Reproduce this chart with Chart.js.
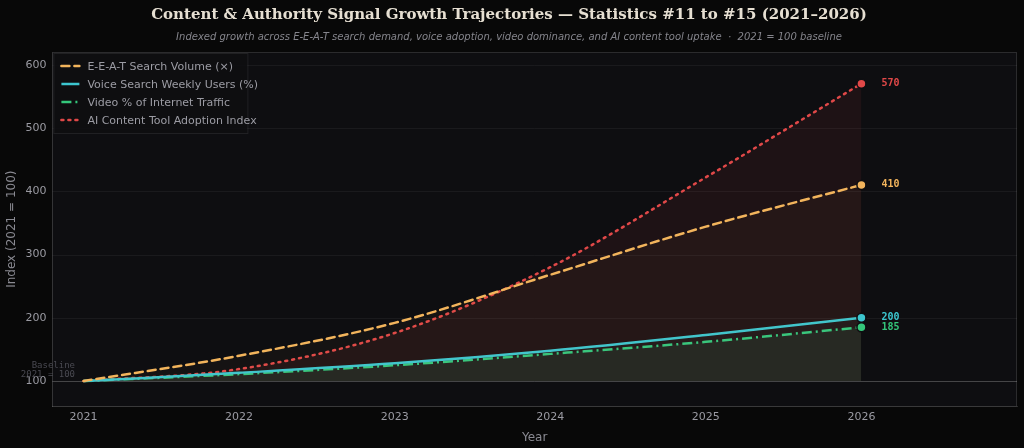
<!DOCTYPE html>
<html>
<head>
<meta charset="utf-8">
<script src="https://cdn.jsdelivr.net/npm/chart.js@4.4.1/dist/chart.umd.min.js"></script>
<style>
  html, body { margin: 0; padding: 0; background: #080808; }
  #wrap { width: 1024px; height: 448px; position: relative; }
</style>
</head>
<body>
<div id="wrap"><canvas id="chart"></canvas></div>
<script>
// ─── Data ────────────────────────────────────────────────────────────────────
const YEARS       = [2021, 2022, 2023, 2024, 2025, 2026];
const EEAT_VOLUME = [100, 140, 192, 268, 344, 410];
const VOICE_USERS = [100, 113, 128, 148, 173, 200];
const VIDEO_SHARE = [100, 111, 125, 143, 162, 185];
const AI_ADOPTION = [100, 119, 176, 280, 422, 570];
const Y_TICKS     = [100, 200, 300, 400, 500, 600];

const SERIES = [
  { label: "E-E-A-T Search Volume (×)",     data: EEAT_VOLUME, color: "#f2b45c", dash: [8, 5],        fill: "rgba(242,180,92,0.03)" },
  { label: "Voice Search Weekly Users (%)", data: VOICE_USERS, color: "#3cc6cf", dash: [],            fill: "rgba(60,198,207,0.03)" },
  { label: "Video % of Internet Traffic",   data: VIDEO_SHARE, color: "#34c77b", dash: [10, 4, 2, 4], fill: "rgba(52,199,123,0.08)" },
  { label: "AI Content Tool Adoption Index", data: AI_ADOPTION, color: "#e04848", dash: [2, 5],        fill: "rgba(224,72,72,0.08)" },
];

const MONO = "'DejaVu Sans Mono', monospace";
const SANS = "'DejaVu Sans', sans-serif";

// ─── Extras: background, baseline, end labels, legend ────────────────────────
const extras = {
  id: "extras",
  beforeDatasetsDraw(chart) {
    const { ctx, chartArea: a, scales: { y } } = chart;
    ctx.save();
    ctx.fillStyle = "#0e0e11";
    ctx.fillRect(a.left, a.top, a.right - a.left, a.bottom - a.top);
    // horizontal grid
    ctx.strokeStyle = "rgba(255,255,255,0.05)";
    ctx.lineWidth = 1;
    Y_TICKS.forEach(v => {
      const py = Math.round(y.getPixelForValue(v)) + 0.5;
      ctx.beginPath(); ctx.moveTo(a.left, py); ctx.lineTo(a.right, py); ctx.stroke();
    });
    // baseline
    const by = Math.round(y.getPixelForValue(100)) + 0.5;
    ctx.strokeStyle = "rgba(200,200,200,0.25)";
    ctx.beginPath(); ctx.moveTo(a.left, by); ctx.lineTo(a.right, by); ctx.stroke();
    // frame
    ctx.strokeStyle = "rgba(255,255,255,0.12)";
    ctx.strokeRect(Math.round(a.left) + 0.5, Math.round(a.top) + 0.5,
                   Math.round(a.right - a.left) - 1, Math.round(a.bottom - a.top));
    ctx.restore();
  },
  afterDatasetsDraw(chart) {
    const { ctx, chartArea: a, scales: { x, y } } = chart;
    ctx.save();
    // baseline note
    ctx.font = "9px " + MONO;
    ctx.fillStyle = "#4a4a52";
    ctx.textAlign = "right";
    ctx.textBaseline = "middle";
    ctx.fillText("Baseline", 75, 366);
    ctx.fillText("2021 = 100", 75, 375);

    // end markers + labels
    const lastX = x.getPixelForValue(YEARS[YEARS.length - 1]);
    SERIES.forEach(s => {
      const v = s.data[s.data.length - 1];
      const py = y.getPixelForValue(v);
      ctx.beginPath();
      ctx.arc(lastX, py, 4.5, 0, Math.PI * 2);
      ctx.fillStyle = s.color;
      ctx.fill();
      ctx.lineWidth = 1.5;
      ctx.strokeStyle = "#0e0e11";
      ctx.stroke();
      ctx.font = "bold 10px " + MONO;
      ctx.textAlign = "left";
      ctx.fillStyle = s.color;
      ctx.fillText(String(v), lastX + 20, py);
    });

    // legend
    const lx = a.left + 1, ly = a.top + 1;
    ctx.fillStyle = "rgba(14,14,17,0.85)";
    ctx.fillRect(lx, ly, 194, 80);
    ctx.strokeStyle = "rgba(255,255,255,0.08)";
    ctx.lineWidth = 1;
    ctx.strokeRect(lx + 0.5, ly + 0.5, 194, 80);
    ctx.font = "11px " + SANS;
    ctx.textAlign = "left";
    SERIES.forEach((s, i) => {
      const iy = ly + 13 + i * 18;
      ctx.beginPath();
      ctx.setLineDash(s.dash);
      ctx.lineCap = s.dash.length === 2 ? "round" : "butt";
      ctx.strokeStyle = s.color;
      ctx.lineWidth = 2.5;
      ctx.moveTo(lx + 8, iy); ctx.lineTo(lx + 26, iy);
      ctx.stroke();
      ctx.setLineDash([]);
      ctx.fillStyle = "#9c9ca4";
      ctx.fillText(s.label, lx + 34, iy + 1);
    });
    ctx.restore();
  }
};

// ─── Chart ───────────────────────────────────────────────────────────────────
new Chart(document.getElementById("chart"), {
  type: "line",
  data: {
    datasets: SERIES.map(s => ({
      label: s.label,
      data: YEARS.map((yr, i) => ({ x: yr, y: s.data[i] })),
      borderColor: s.color,
      backgroundColor: s.fill,
      borderWidth: 2.5,
      borderDash: s.dash,
      borderCapStyle: s.dash.length === 2 ? "round" : "butt",
      pointRadius: 0,
      cubicInterpolationMode: "monotone",
      fill: { value: 100 },
    }))
  },
  options: {
    responsive: true,
    maintainAspectRatio: false,
    animation: false,
    layout: { padding: { left: 1, right: 7, top: 0, bottom: 1 } },
    plugins: {
      legend: { display: false },
      tooltip: { enabled: false },
      title: {
        display: true,
        text: "Content & Authority Signal Growth Trajectories — Statistics #11 to #15 (2021–2026)",
        color: "#e6dfd2",
        font: { family: "'DejaVu Serif', serif", size: 15, weight: "bold" },
        padding: { top: 6, bottom: 7 }
      },
      subtitle: {
        display: true,
        text: "Indexed growth across E-E-A-T search demand, voice adoption, video dominance, and AI content tool uptake  ·  2021 = 100 baseline",
        color: "#85858c",
        font: { family: SANS, size: 10, style: "italic" },
        padding: { bottom: 9 }
      }
    },
    scales: {
      x: {
        type: "linear",
        min: 2020.8, max: 2027,
        afterBuildTicks: axis => { axis.ticks = YEARS.map(v => ({ value: v })); },
        ticks: { color: "#9a9aa2", font: { family: SANS, size: 11 }, callback: v => String(v), padding: 1 },
        grid: { display: false, drawTicks: true, tickLength: 3 },
        border: { color: "rgba(255,255,255,0.15)" },
        title: { display: true, text: "Year", color: "#8a8a92", font: { family: SANS, size: 12 }, padding: { top: 6, bottom: 2 } }
      },
      y: {
        min: 60, max: 620,
        afterBuildTicks: axis => { axis.ticks = Y_TICKS.map(v => ({ value: v })); },
        ticks: { color: "#9a9aa2", font: { family: SANS, size: 11 }, padding: 3 },
        grid: { display: false, drawTicks: true, tickLength: 3 },
        border: { color: "rgba(255,255,255,0.15)" },
        title: { display: true, text: "Index (2021 = 100)", color: "#8a8a92", font: { family: SANS, size: 12 }, padding: { bottom: 3 } }
      }
    }
  },
  plugins: [extras]
});
</script>
</body>
</html>
